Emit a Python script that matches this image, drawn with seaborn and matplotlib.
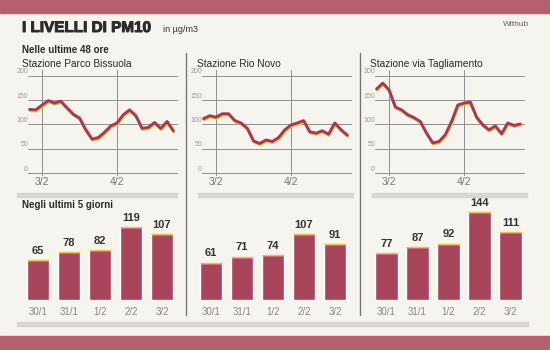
import numpy as np
import pandas as pd
import seaborn as sns
import matplotlib.pyplot as plt
import matplotlib.patheffects as pe
from matplotlib.patches import Rectangle
from matplotlib.lines import Line2D

# --- dati ---
stations = ["Stazione Parco Bissuola", "Stazione Rio Novo", "Stazione via Tagliamento"]
hours = list(range(-4, 44, 2))  # campioni ogni 2 ore, 0 = 3/2
hour_ticks = [0, 24]
hour_labels = ["3/2", "4/2"]

pm_bissuola = [131, 130, 140, 149, 144, 148, 134, 121, 113, 89, 70, 73,
               84, 97, 103, 120, 130, 118, 92, 94, 104, 92, 106, 87]
pm_rionovo = [112, 118, 115, 122, 122, 108, 103, 92, 66, 61, 68, 65,
              73, 89, 99, 103, 108, 85, 82, 87, 80, 103, 89, 78]
pm_tagliamento = [173, 185, 171, 136, 130, 120, 114, 106, 82, 62, 65, 79,
                  106, 140, 144, 146, 115, 99, 89, 97, 81, 103, 98, 101]

days = ["30/1", "31/1", "1/2", "2/2", "3/2"]
avg_bissuola = [65, 78, 82, 119, 107]
avg_rionovo = [61, 71, 74, 107, 91]
avg_tagliamento = [77, 87, 92, 144, 111]

hourly = [pm_bissuola, pm_rionovo, pm_tagliamento]
daily = [avg_bissuola, avg_rionovo, avg_tagliamento]

# --- stile ---
BG = "#f6f4ef"
BAND = "#b5606e"
RED = "#a63a55"
YEL = "#e6c24a"
GRID = "#8e8e8e"
sns.set_style("white")
plt.rcParams["font.family"] = ["Liberation Sans", "DejaVu Sans"]

W, H = 550, 350
fig = plt.figure(figsize=(5.5, 3.5), dpi=100, facecolor=BG)


def px_axes(x0, y0, x1, y1):
    return fig.add_axes([x0 / W, 1 - y1 / H, (x1 - x0) / W, (y1 - y0) / H])


def px_rect(x0, y0, x1, y1, color):
    fig.patches.append(Rectangle((x0 / W, 1 - y1 / H), (x1 - x0) / W, (y1 - y0) / H,
                                 transform=fig.transFigure, color=color, zorder=0))


def px_text(x, y, s, **kw):
    fig.text(x / W, 1 - y / H, s, **kw)


# bande e separatori
px_rect(0, 0, 550, 13, BAND)
px_rect(0, 336, 550, 350, BAND)
for x0, x1 in [(17, 177), (198, 353), (372, 527)]:
    px_rect(x0, 193, x1, 197, "#d9d7d2")
px_rect(17, 322, 528, 326, "#d9d7d2")
for x in [186, 360]:
    fig.lines.append(Line2D([x / W, x / W], [1 - 53 / H, 1 - 315 / H],
                            transform=fig.transFigure, color="#777777", lw=1))

# testi
heavy = [pe.withStroke(linewidth=0.7, foreground="#2b2b2b")]
px_text(22, 32, "I LIVELLI DI PM10", fontsize=11, fontweight="bold", color="#2b2b2b",
        va="baseline", path_effects=heavy)
px_text(163, 32, "in µg/m3", fontsize=6.5, color="#333333", va="baseline")
px_text(529, 26, "Withub", fontsize=6, color="#666666", ha="right", va="baseline")
px_text(22, 53, "Nelle ultime 48 ore", fontsize=7, fontweight="bold", color="#2b2b2b", va="baseline")
px_text(22, 208, "Negli ultimi 5 giorni", fontsize=7, fontweight="bold", color="#2b2b2b", va="baseline")

line_left = [28, 202, 375]
title_left = [22, 197, 370]
bar_left = [22.5, 195.5, 371]

for i in range(3):
    # --- ultime 48 ore ---
    ax = px_axes(line_left[i], 70, line_left[i] + 150, 176)
    ax.set_facecolor("none")
    df = pd.DataFrame({"ora": hours, "pm10": hourly[i]})
    sns.lineplot(data=df, x="ora", y="pm10", ax=ax, color=RED, lw=2.1, zorder=3,
                 path_effects=[pe.Stroke(offset=(0.4, -0.9), linewidth=2.1, foreground=YEL),
                               pe.Normal()])
    ax.set_xlim(-4.5, 43.5)
    ax.set_ylim(-6, 212)
    for v in [0, 50, 100, 150, 200]:
        ax.axhline(v, color=GRID, lw=0.7, zorder=1)
        ax.text(-4.5, v + 1, str(v), fontsize=5, color="#999999", ha="right", va="bottom")
    for t, lab in zip(hour_ticks, hour_labels):
        ax.axvline(t, color=GRID, lw=0.7, zorder=1)
        ax.text(t, -9, lab, fontsize=7.5, color="#777777", ha="center", va="top")
    ax.set_xticks([])
    ax.set_yticks([])
    ax.set_xlabel("")
    ax.set_ylabel("")
    sns.despine(ax=ax, left=True, bottom=True)
    px_text(title_left[i], 67, stations[i], fontsize=7.3, color="#2b2b2b", va="baseline")

    # --- ultimi 5 giorni ---
    bx = px_axes(bar_left[i], 202, bar_left[i] + 155, 300)
    bx.set_facecolor("none")
    sns.barplot(x=days, y=daily[i], ax=bx, color="#a8445c", saturation=1, width=0.71)
    bx.set_xlim(-0.5, 4.5)
    bx.set_ylim(0, 160)
    for p in bx.patches:
        bx.plot([p.get_x(), p.get_x() + p.get_width()], [p.get_height()] * 2,
                color=YEL, lw=1, solid_capstyle="butt")
    bx.bar_label(bx.containers[0], padding=3, fontsize=8, fontweight="bold", color="#333333")
    bx.set_yticks([])
    bx.tick_params(axis="x", length=0, pad=5, labelsize=7, labelcolor="#888888")
    bx.set_xlabel("")
    bx.set_ylabel("")
    sns.despine(ax=bx, left=True, bottom=True)

fig.savefig("out.png", dpi=100, facecolor=BG)
